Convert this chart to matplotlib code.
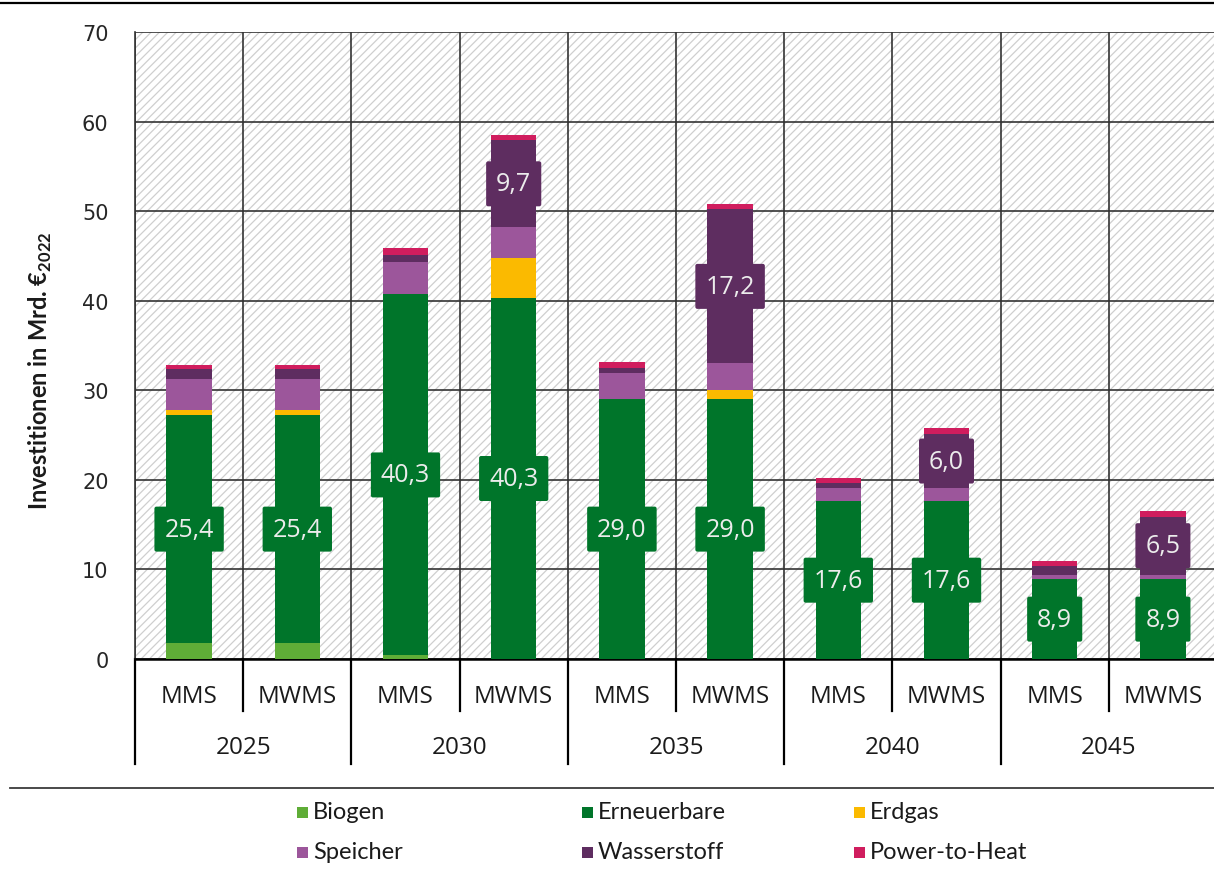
import numpy as np
import matplotlib
matplotlib.use("Agg")
import matplotlib.pyplot as plt
from matplotlib.patches import Rectangle
from matplotlib.lines import Line2D
from matplotlib.transforms import blended_transform_factory

# --- data (Mrd. EUR 2022) -------------------------------------------------
years = ["2025", "2030", "2035", "2040", "2045"]
scenarios = ["MMS", "MWMS"]

biogen      = [1.8, 1.8, 0.4, 0.0, 0.0, 0.0, 0.0, 0.0, 0.0, 0.0]
erneuerbare = [25.4, 25.4, 40.3, 40.3, 29.0, 29.0, 17.6, 17.6, 8.9, 8.9]
erdgas      = [0.6, 0.6, 0.0, 4.5, 0.0, 1.0, 0.0, 0.0, 0.0, 0.0]
speicher    = [3.5, 3.5, 3.6, 3.4, 2.9, 3.0, 1.5, 1.5, 0.5, 0.5]
wasserstoff = [1.1, 1.1, 0.85, 9.7, 0.55, 17.2, 0.55, 6.0, 0.95, 6.5]
power_to_heat = [0.45, 0.45, 0.7, 0.55, 0.75, 0.6, 0.55, 0.65, 0.6, 0.65]

series_names = ["Biogen", "Erneuerbare", "Erdgas", "Speicher", "Wasserstoff", "Power-to-Heat"]
series_values = [biogen, erneuerbare, erdgas, speicher, wasserstoff, power_to_heat]
series_colors = ["#5FAD37", "#00752A", "#FBBA00", "#9C569B", "#5E2D60", "#D01D5E"]
labelled_series = {"Erneuerbare", "Wasserstoff"}
label_threshold = 5.0

# --- figure layout (pixel based) -----------------------------------------
W, H = 1214, 878
fig = plt.figure(figsize=(W / 100, H / 100), dpi=100)
fig.patch.set_facecolor("white")

LEFT, RIGHT, TOP, BOTTOM = 135, 1217, 33, 660
ax = fig.add_axes([LEFT / W, 1 - BOTTOM / H, (RIGHT - LEFT) / W, (BOTTOM - TOP) / H])

label_font = ["Open Sans", "DejaVu Sans"]
narrow_font = ["Lato", "DejaVu Sans"]

# hatched plot background
plt.rcParams["hatch.linewidth"] = 0.9
ax.add_patch(Rectangle((0, 0), 1, 1, transform=ax.transAxes, facecolor="white",
                       edgecolor="#cfcfcf", hatch="////", linewidth=0, zorder=0.1))

n = len(years) * len(scenarios)
x = np.arange(n)
bar_width = 0.42
bottom = np.zeros(n)
for name, vals, color in zip(series_names, series_values, series_colors):
    vals = np.asarray(vals, dtype=float)
    ax.bar(x, vals, bar_width, bottom=bottom, color=color, linewidth=0, zorder=3)
    if name in labelled_series:
        for xi, b, v in zip(x, bottom, vals):
            if v >= label_threshold:
                ax.text(xi, b + v / 2, f"{v:.1f}".replace(".", ","), ha="center", va="center",
                        color="#ececec", fontsize=18, family=label_font, zorder=6,
                        bbox=dict(boxstyle="round,pad=0.4,rounding_size=0.08",
                                  facecolor=color, edgecolor="none"))
    bottom += vals

# axes, ticks, grid
ax.set_xlim(-0.5, n - 0.5)
ax.set_ylim(0, 70)
ax.set_yticks(np.arange(0, 71, 10))
ax.set_xticks([])
ax.set_xticks(np.arange(-0.5, n, 1.0), minor=True)
ax.tick_params(axis="both", which="both", length=0)
ax.tick_params(axis="y", pad=19, labelsize=15, labelcolor="#262626")
for lbl in ax.get_yticklabels():
    lbl.set_family("DejaVu Sans")
ax.set_axisbelow(True)
ax.grid(axis="y", which="major", color="#333333", linewidth=1.2)
ax.grid(axis="x", which="minor", color="#333333", linewidth=1.2)
for side in ["top", "right"]:
    ax.spines[side].set_visible(False)
ax.spines["left"].set_color("#333333")
ax.spines["left"].set_linewidth(1.2)
ax.spines["bottom"].set_color("black")
ax.spines["bottom"].set_linewidth(1.8)

# two-level category axis
trans = blended_transform_factory(ax.transData, ax.transAxes)
ph = BOTTOM - TOP
inner_y = -(712 - BOTTOM) / ph
outer_y = -(765 - BOTTOM) / ph
for k in range(len(years)):
    xs = 2 * k + 0.5
    ax.add_line(Line2D([xs, xs], [0, inner_y], transform=trans, color="black",
                       linewidth=1.6, clip_on=False))
for k in range(len(years) + 1):
    xs = 2 * k - 0.5
    ax.add_line(Line2D([xs, xs], [0, outer_y], transform=trans, color="black",
                       linewidth=1.6, clip_on=False))
for i in range(n):
    ax.text(x[i], -(697 - BOTTOM) / ph, scenarios[i % 2], transform=trans, ha="center",
            va="center", fontsize=17.5, family=label_font, color="#1a1a1a")
for k, yr in enumerate(years):
    ax.text(2 * k + 0.5, -(748 - BOTTOM) / ph, yr, transform=trans, ha="center",
            va="center", fontsize=17.5, family=label_font, color="#1a1a1a")

# y axis title
plt.rcParams["mathtext.fontset"] = "custom"
plt.rcParams["mathtext.bf"] = "Lato:bold"
fig.text(40 / W, 1 - 371 / H, r"Investitionen in Mrd. €$_{\mathbf{2022}}$", rotation=90,
         ha="center", va="center", fontsize=17, fontweight="bold", family=narrow_font,
         color="#1a1a1a")

# frame lines above and below the chart
fig.add_artist(Line2D([0, 1], [1 - 4 / H] * 2, transform=fig.transFigure,
                      color="black", linewidth=1.6))
fig.add_artist(Line2D([10 / W, 1], [1 - 789 / H] * 2, transform=fig.transFigure,
                      color="#3a3a3a", linewidth=1.3))

# legend (3 columns x 2 rows)
col_x = [297, 582, 854]
row_y = [813, 853]
sq = 11
for idx, (name, color) in enumerate(zip(series_names, series_colors)):
    cx = col_x[idx % 3]
    cy = row_y[idx // 3]
    fig.add_artist(Rectangle((cx / W, 1 - (cy + sq / 2) / H), sq / W, sq / H,
                             transform=fig.transFigure, facecolor=color, edgecolor="none"))
    fig.text((cx + sq + 5) / W, 1 - cy / H, name, ha="left", va="center",
             fontsize=17, family=narrow_font, color="#1a1a1a")

fig.savefig("out.png", dpi=100, facecolor="white")
